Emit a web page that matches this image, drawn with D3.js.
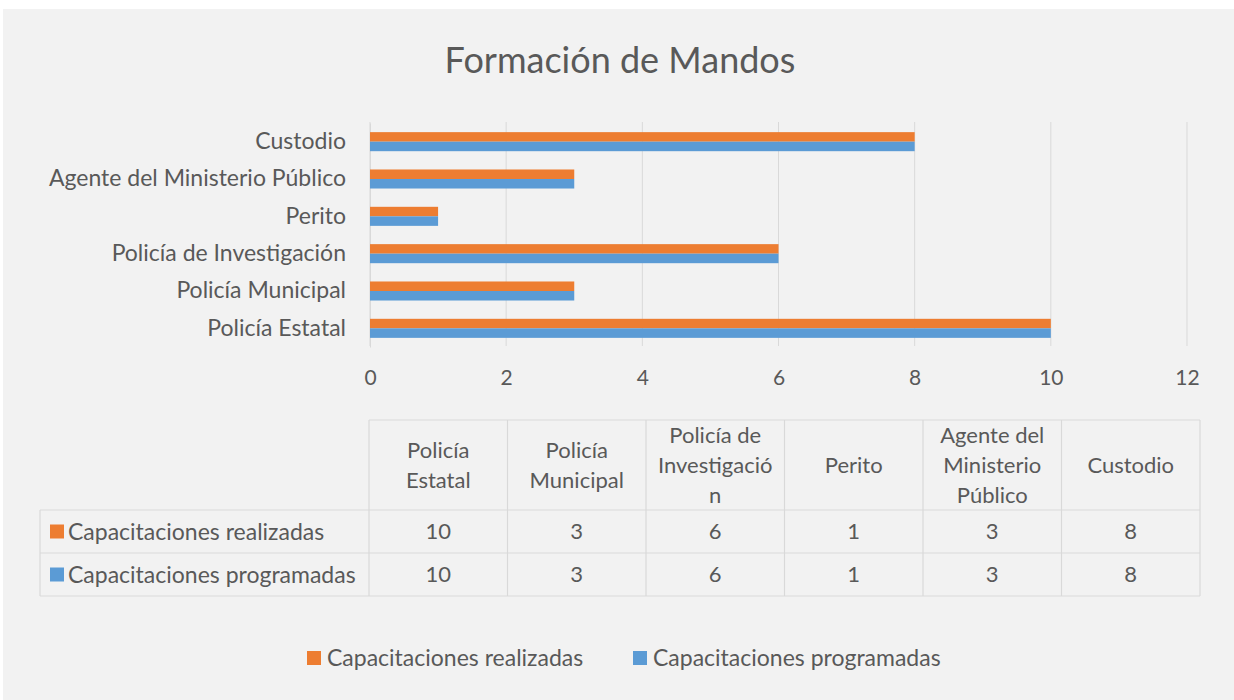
<!DOCTYPE html>
<html>
<head>
<meta charset="utf-8">
<script src="https://cdn.jsdelivr.net/npm/d3@7"></script>
<style>
  body { margin: 0; background: #fff; }
  text { font-family: Lato, "Open Sans", sans-serif; fill: #595959; }
</style>
</head>
<body>
<svg id="chart" width="1234" height="700"></svg>
<script>
const categories = ['Policía Estatal', 'Policía Municipal', 'Policía de Investigación', 'Perito', 'Agente del Ministerio Público', 'Custodio']
const realizadas = [10, 3, 6, 1, 3, 8]
const programadas = [10, 3, 6, 1, 3, 8]
const seriesNames = ['Capacitaciones realizadas', 'Capacitaciones programadas']
const seriesColors = ['#ED7D31', '#5B9BD5']
const xTicks = [0, 2, 4, 6, 8, 10, 12]
// header labels as Excel wrapped them
const headerLines = [['Policía', 'Estatal'], ['Policía', 'Municipal'], ['Policía de', 'Investigació', 'n'], ['Perito'], ['Agente del', 'Ministerio', 'Público'], ['Custodio']]

const series = [realizadas, programadas]
const rows = categories.map((c, i) => ({cat: c, values: series.map(s => s[i])}))

const svg = d3.select('#chart')
const grid = '#d9d9d9'

svg.append('rect')
  .attr('x', 3).attr('y', 9).attr('width', 1231).attr('height', 691)
  .attr('fill', '#f2f2f2')

svg.append('text')
  .attr('x', 620).attr('y', 73)
  .attr('text-anchor', 'middle')
  .style('font-size', '36px')
  .text('Formación de Mandos')

// bar chart
const x = d3.scaleLinear().domain([0, 12]).range([370, 1187])
const y = d3.scaleBand()
  .domain(categories.slice().reverse())
  .range([123, 347])
  .paddingInner(0.49).paddingOuter(0.245)
const ySeries = d3.scaleBand().domain([0, 1]).range([0, y.bandwidth()])

svg.append('g')
  .selectAll('line')
  .data(xTicks)
  .join('line')
  .attr('x1', d => x(d)).attr('x2', d => x(d))
  .attr('y1', 122).attr('y2', 346)
  .attr('stroke', grid).attr('stroke-width', 1)

const xAxis = d3.axisBottom(x).tickValues(xTicks).tickSize(0).tickPadding(0)
const gx = svg.append('g').attr('transform', 'translate(0,366)').call(xAxis)
gx.select('.domain').remove()
gx.selectAll('text').style('font-size', '21px').attr('fill', '#595959').attr('dy', '0.9em')

const yAxis = d3.axisLeft(y).tickSize(0).tickPadding(24)
const gy = svg.append('g').attr('transform', 'translate(370,0)').call(yAxis)
gy.select('.domain').attr('stroke', grid)
gy.selectAll('text').style('font-size', '23px').attr('fill', '#595959')

const groups = svg.append('g')
  .selectAll('g')
  .data(rows)
  .join('g')
  .attr('transform', d => `translate(0,${y(d.cat)})`)

groups.selectAll('rect')
  .data(d => d.values)
  .join('rect')
  .attr('x', x(0))
  .attr('y', (d, i) => ySeries(i))
  .attr('width', d => x(d) - x(0))
  .attr('height', ySeries.bandwidth())
  .attr('fill', (d, i) => seriesColors[i])

// data table
const tableLeft = 40, tableRight = 1200
const col = d3.scaleBand().domain(categories).range([369, tableRight])
const headTop = 420, headBottom = 510, rowH = 43
const table = svg.append('g').attr('stroke', grid).attr('stroke-width', 1.2)

table.append('line').attr('x1', 369).attr('x2', tableRight).attr('y1', headTop).attr('y2', headTop)
table.selectAll('.hline')
  .data([0, 1, 2])
  .join('line')
  .attr('x1', tableLeft).attr('x2', tableRight)
  .attr('y1', d => headBottom + d * rowH).attr('y2', d => headBottom + d * rowH)
table.append('line').attr('x1', tableLeft).attr('x2', tableLeft).attr('y1', headBottom).attr('y2', headBottom + 2 * rowH)
table.selectAll('.vline')
  .data(categories.concat(['end']))
  .join('line')
  .attr('x1', d => d === 'end' ? tableRight : col(d))
  .attr('x2', d => d === 'end' ? tableRight : col(d))
  .attr('y1', headTop).attr('y2', headBottom + 2 * rowH)

const lineH = 30
categories.forEach((c, i) => {
  const lines = headerLines[i]
  const cy = (headTop + headBottom) / 2
  svg.append('text')
    .attr('x', col(c) + col.bandwidth() / 2)
    .attr('text-anchor', 'middle')
    .style('font-size', '22px')
    .selectAll('tspan')
    .data(lines)
    .join('tspan')
    .attr('x', col(c) + col.bandwidth() / 2)
    .attr('y', (d, j) => cy + (j - (lines.length - 1) / 2) * lineH)
    .attr('dy', '0.35em')
    .text(d => d)
})

series.forEach((s, si) => {
  const cy = headBottom + si * rowH + rowH / 2
  svg.append('rect')
    .attr('x', 50).attr('y', cy - 7).attr('width', 14).attr('height', 14)
    .attr('fill', seriesColors[si])
  svg.append('text')
    .attr('x', 68).attr('y', cy).attr('dy', '0.35em')
    .style('font-size', '23px')
    .text(seriesNames[si])
  svg.append('g')
    .selectAll('text')
    .data(s)
    .join('text')
    .attr('x', (d, i) => col(categories[i]) + col.bandwidth() / 2)
    .attr('y', cy).attr('dy', '0.35em')
    .attr('text-anchor', 'middle')
    .style('font-size', '22px')
    .text(d => d)
})

// legend
const legendX = [307, 633]
seriesNames.forEach((name, i) => {
  svg.append('rect')
    .attr('x', legendX[i]).attr('y', 651).attr('width', 14).attr('height', 14)
    .attr('fill', seriesColors[i])
  svg.append('text')
    .attr('x', legendX[i] + 20).attr('y', 658).attr('dy', '0.35em')
    .style('font-size', '23px')
    .text(name)
})
</script>
</body>
</html>
